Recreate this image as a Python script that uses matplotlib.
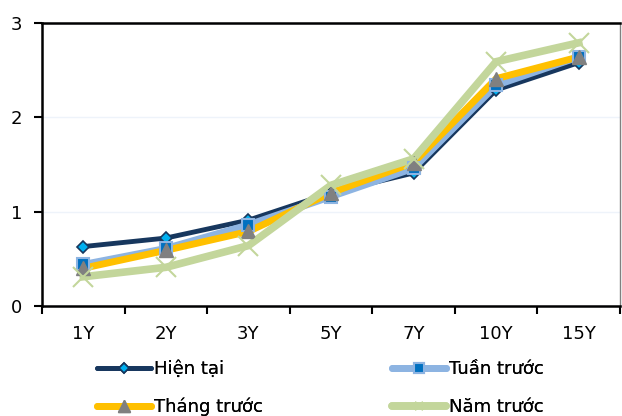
import matplotlib
matplotlib.use("Agg")
import matplotlib.pyplot as plt
from matplotlib.lines import Line2D

categories = ["1Y", "2Y", "3Y", "5Y", "7Y", "10Y", "15Y"]
hien_tai = [0.63, 0.72, 0.91, 1.20, 1.41, 2.29, 2.58]
tuan_truoc = [0.44, 0.61, 0.86, 1.16, 1.46, 2.34, 2.64]
thang_truoc = [0.40, 0.59, 0.79, 1.20, 1.52, 2.41, 2.64]
nam_truoc = [0.31, 0.41, 0.64, 1.28, 1.56, 2.59, 2.79]
yticks = [0, 1, 2, 3]

plt.rcParams['font.family'] = ['DejaVu Sans']
fig = plt.figure(figsize=(6.22, 4.16), dpi=100)
ax = fig.add_axes([42/622, 110/416, 578/622, 283/416])

x = list(range(len(categories)))
styles = {
    "hien": dict(data=hien_tai, label="Hiện tại", color="#17375E", lw=3.5, marker="D", ms=6, mfc="#00B0F0", mec="#17375E", mew=1.2, z=2),
    "tuan": dict(data=tuan_truoc, label="Tuần trước", color="#8DB4E2", lw=5, marker="s", ms=8, mfc="#0070C0", mec="#8DB4E2", mew=1.5, z=3),
    "thang": dict(data=thang_truoc, label="Tháng trước", color="#FFC000", lw=5, marker="^", ms=10, mfc="#808080", mec="#808080", mew=1, z=4),
    "nam": dict(data=nam_truoc, label="Năm trước", color="#C3D69B", lw=5.5, marker="x", ms=14, mfc="#C3D69B", mec="#C3D69B", mew=1.5, z=5),
}
for s in styles.values():
    ax.plot(x, s["data"], color=s["color"], lw=s["lw"], zorder=s["z"], solid_joinstyle="miter")
for s in styles.values():
    ax.plot(x, s["data"], ls="none", marker=s["marker"], ms=s["ms"],
            mfc=s["mfc"], mec=s["mec"], mew=s["mew"], zorder=s["z"] + 5)

ax.set_xlim(-0.5, len(categories) - 0.5)
ax.set_ylim(0, 3)
ax.set_yticks(yticks)
ax.set_xticks([i - 0.5 for i in range(len(categories) + 1)])
ax.set_xticklabels([])
ax.set_xticks(x, minor=True)
ax.set_xticklabels(categories, minor=True)
ax.tick_params(axis='x', which='minor', length=0, pad=14, labelsize=13)
ax.tick_params(axis='x', which='major', length=6, width=1.5, direction='out', color='black')
ax.tick_params(axis='y', length=6, width=1.5, direction='out', labelsize=13, pad=8)
for sp in ["left", "bottom", "top"]:
    ax.spines[sp].set_linewidth(1.8)
ax.spines["right"].set_linewidth(1.0)
ax.spines["right"].set_color("#808080")
ax.grid(axis='y', color='#EEF3FA', lw=1)
ax.set_axisbelow(True)

positions = {"hien": (97, 369), "tuan": (392, 369), "thang": (97, 407), "nam": (392, 407)}
legend_ms = {"hien": 5, "tuan": 7, "thang": 9, "nam": 6}
for key, (px, py) in positions.items():
    s = styles[key]
    hnd = Line2D([], [], color=s["color"], lw=s["lw"], marker=s["marker"], ms=legend_ms[key],
                 mfc=s["mfc"], mec=s["mec"], mew=s["mew"], solid_capstyle="round")
    lg = fig.legend([hnd], [s["label"]], loc='center left', bbox_to_anchor=(px/622, 1 - py/416),
                    frameon=False, fontsize=13, handlelength=3.0, handletextpad=0.15,
                    borderaxespad=0, borderpad=0)
    fig.add_artist(lg)

fig.savefig("out.png", dpi=100)
